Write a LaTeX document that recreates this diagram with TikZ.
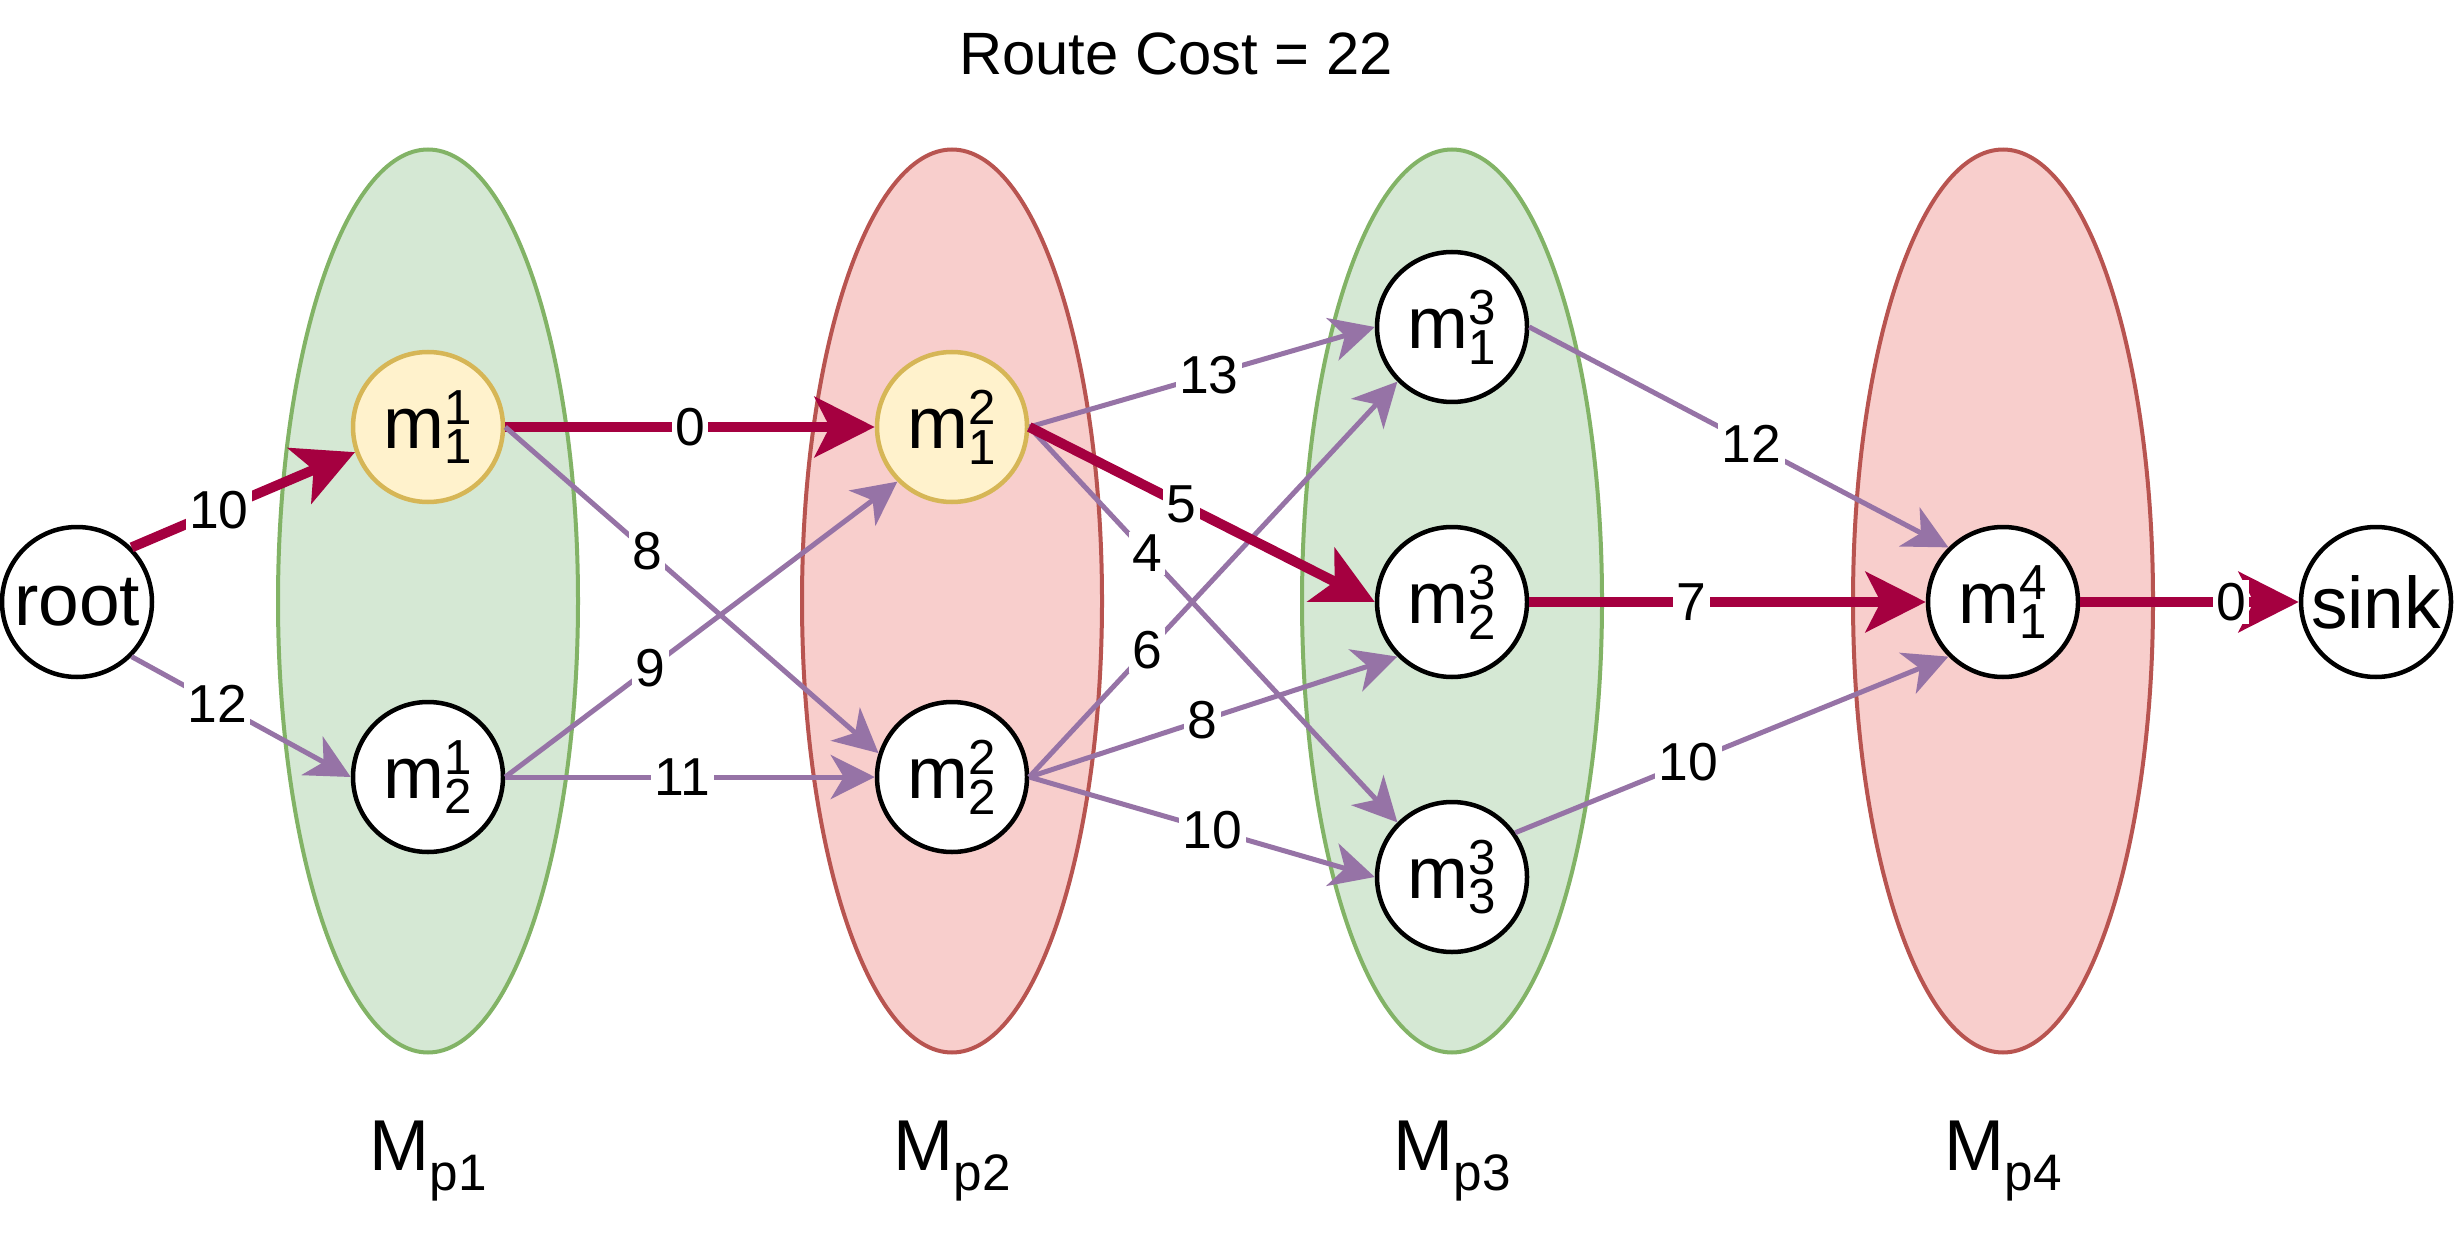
\documentclass[tikz,border=0pt]{standalone}
\usepackage{fontspec}
\setmainfont{Liberation Sans}
\usetikzlibrary{arrows.meta,shapes.geometric}
\definecolor{pathred}{HTML}{A50040}
\definecolor{edgepurple}{HTML}{9673A6}
\definecolor{grnfill}{HTML}{D5E8D4}
\definecolor{grnline}{HTML}{82B366}
\definecolor{redfill}{HTML}{F8CECC}
\definecolor{redline}{HTML}{B85450}
\definecolor{ylwfill}{HTML}{FFF2CC}
\definecolor{ylwline}{HTML}{D6B656}
\newcommand{\mlab}[2]{m\rlap{\raisebox{7pt}{\fontsize{14}{14}\selectfont #1}}\raisebox{-4.3pt}{\fontsize{14}{14}\selectfont #2}}
\newcommand{\plab}[1]{M\raisebox{-5.7pt}{\fontsize{14.6}{14.6}\selectfont p#1}}

\begin{document}
\begin{tikzpicture}[x=0.1mm,y=-0.1mm,
    grpg/.style={ellipse,draw=grnline,fill=grnfill,line width=0.4mm,minimum width=30mm,minimum height=90.3mm,inner sep=0pt},
    grpr/.style={grpg,draw=redline,fill=redfill},
    mnode/.style={circle,draw=black,line width=0.45mm,fill=white,minimum size=15mm,inner sep=0pt,font=\fontsize{20.8}{24}\selectfont},
    onroute/.style={mnode,draw=ylwline,fill=ylwfill},
    best/.style={draw=pathred,line width=1mm,-{Stealth[length=6mm,width=6mm,inset=1.5mm]}},
    alt/.style={draw=edgepurple,line width=0.5mm,-{Stealth[length=4.4mm,width=4.4mm,inset=1.3mm]}},
    wt/.style={fill=white,inner sep=1pt,text=black,font=\fontsize{15.2}{17}\selectfont},
    plbl/.style={anchor=base,font=\fontsize{20.5}{24}\selectfont}]
  \useasboundingbox (0,0) rectangle (2455,1255);
  \node[anchor=base,font=\fontsize{17}{20}\selectfont] (title) at (1176,75) {Route Cost = 22};
  % machine groups
  \node[grpg] (p1) at (428,601) {};
  \node[grpr] (p2) at (952,601) {};
  \node[grpg] (p3) at (1452,601) {};
  \node[grpr] (p4) at (2003,601) {};
  \node[plbl] (lp1) at (428,1170) {\plab{1}};
  \node[plbl] (lp2) at (952,1170) {\plab{2}};
  \node[plbl] (lp3) at (1452,1170) {\plab{3}};
  \node[plbl] (lp4) at (2003,1170) {\plab{4}};
  % machines
  \node[mnode] (root) at (77,602) {root};
  \node[onroute] (m11) at (428,427) {\mlab{1}{1}};
  \node[mnode] (m12) at (428,777) {\mlab{1}{2}};
  \node[onroute] (m21) at (952,427) {\mlab{2}{1}};
  \node[mnode] (m22) at (952,777) {\mlab{2}{2}};
  \node[mnode] (m31) at (1452,327) {\mlab{3}{1}};
  \node[mnode] (m32) at (1452,602) {\mlab{3}{2}};
  \node[mnode] (m33) at (1452,877) {\mlab{3}{3}};
  \node[mnode] (m41) at (2003,602) {\mlab{4}{1}};
  \node[mnode] (sink) at (2376,602) {sink};
  % edges
  \draw[best] (root.north east) -- node[wt,pos=0.39] {10} (m11.199);
  \draw[alt] (root.south east) -- node[wt,pos=0.39] {12} (m12.west);
  \draw[best] (m11.east) -- node[wt] {0} (m21.west);
  \draw[alt] (m11.east) -- node[wt,pos=0.38] {8} (m22.162);
  \draw[alt] (m12.east) -- node[wt,pos=0.37] {9} (m21.south west);
  \draw[alt] (m12.east) -- node[wt,pos=0.48] {11} (m22.west);
  \draw[alt] (m21.east) -- node[wt,pos=0.52] {13} (m31.west);
  \draw[alt] (m21.east) -- node[wt,pos=0.32] {4} (m33.north west);
  \draw[alt] (m22.east) -- node[wt,pos=0.32] {6} (m31.south west);
  \draw[best] (m21.east) -- node[wt,pos=0.44] {5} (m32.west);
  \draw[alt] (m22.east) -- node[wt,pos=0.47] {8} (m32.south west);
  \draw[alt] (m22.east) -- node[wt,pos=0.53] {10} (m33.west);
  \draw[alt] (m31.east) -- node[wt,pos=0.53] {12} (m41.north west);
  \draw[best] (m32.east) -- node[wt,pos=0.41] {7} (m41.west);
  \draw[alt] (m33.35) -- node[wt,pos=0.4] {10} (m41.south west);
  \draw[best] (m41.east) -- node[wt,pos=0.69] {0} (sink.west);
\end{tikzpicture}
\end{document}
